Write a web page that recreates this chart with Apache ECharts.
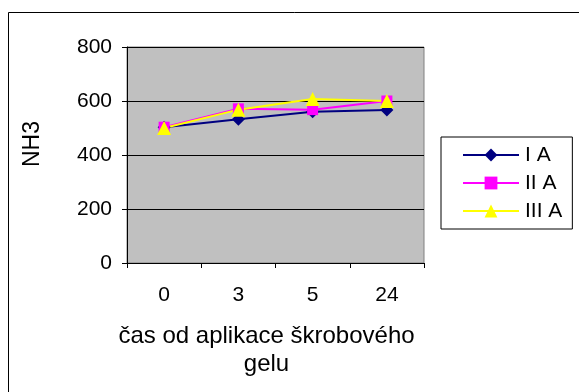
<!DOCTYPE html>
<html>
<head>
<meta charset="utf-8">
<script src="https://cdn.jsdelivr.net/npm/echarts@6/dist/echarts.min.js"></script>
<style>
  html, body { margin: 0; padding: 0; background: #fff; }
  #chart { width: 579px; height: 392px; }
</style>
</head>
<body>
<div id="chart"></div>
<script>
const categories = ['0', '3', '5', '24']
const seriesNames = ['I A', 'II A', 'III A']
const valuesIA = [503, 532, 560, 567]
const valuesIIA = [503, 571, 568, 600]
const valuesIIIA = [500, 568, 607, 600]

const font = 'Liberation Sans, Arial, sans-serif'

const myChart = echarts.init(document.getElementById('chart'))

const option = {
    animation: false,
    backgroundColor: '#ffffff',
    textStyle: { fontFamily: font },
    graphic: [
        {
            type: 'rect',
            shape: { x: 8.5, y: 12.5, width: 600, height: 400 },
            style: { fill: 'none', stroke: '#000', lineWidth: 1 },
            silent: true
        }
    ],
    grid: {
        left: 127,
        right: 155,
        top: 47,
        bottom: 129,
        show: true,
        backgroundColor: '#c0c0c0',
        borderColor: '#808080',
        borderWidth: 1
    },
    legend: {
        orient: 'vertical',
        left: 441,
        top: 137,
        padding: [7, 10, 7, 21],
        itemGap: 6,
        itemWidth: 56,
        itemHeight: 16,
        borderColor: '#000',
        borderWidth: 1,
        backgroundColor: '#fff',
        textStyle: { fontSize: 21, color: '#000', fontFamily: font, lineHeight: 22, padding: [0, 0, 0, 1] },
        data: seriesNames
    },
    xAxis: {
        type: 'category',
        data: categories,
        boundaryGap: true,
        name: 'čas od aplikace škrobového\ngelu',
        nameLocation: 'middle',
        nameGap: 59,
        nameTextStyle: { fontSize: 24, color: '#000', lineHeight: 28, fontFamily: font, padding: [0, 18, 0, 0] },
        axisLine: { lineStyle: { color: '#000', width: 1 } },
        axisTick: { show: true, inside: false, length: 5, interval: 0, lineStyle: { color: '#000' } },
        axisLabel: { fontSize: 21, color: '#000', margin: 22, fontFamily: font },
        splitLine: { show: false }
    },
    yAxis: {
        type: 'value',
        min: 0,
        max: 800,
        interval: 200,
        name: 'NH3',
        nameLocation: 'middle',
        nameRotate: 90,
        nameGap: 83,
        nameTextStyle: { fontSize: 23, color: '#000', fontFamily: font, padding: [0, 0, 0, 22] },
        axisLine: { show: true, lineStyle: { color: '#000', width: 1 } },
        axisTick: { show: true, inside: false, length: 5, lineStyle: { color: '#000' } },
        axisLabel: { fontSize: 21, color: '#000', margin: 15, fontFamily: font },
        splitLine: { show: true, lineStyle: { color: '#000', width: 1 } }
    },
    series: [
        {
            name: seriesNames[0],
            type: 'line',
            data: valuesIA,
            symbol: 'diamond',
            symbolSize: 13,
            lineStyle: { color: '#000080', width: 2 },
            itemStyle: { color: '#000080' }
        },
        {
            name: seriesNames[1],
            type: 'line',
            data: valuesIIA,
            symbol: 'rect',
            symbolSize: 11,
            lineStyle: { color: '#ff00ff', width: 2 },
            itemStyle: { color: '#ff00ff' }
        },
        {
            name: seriesNames[2],
            type: 'line',
            data: valuesIIIA,
            symbol: 'triangle',
            symbolSize: 14,
            lineStyle: { color: '#ffff00', width: 2 },
            itemStyle: { color: '#ffff00' }
        }
    ]
}

myChart.setOption(option)
</script>
</body>
</html>
